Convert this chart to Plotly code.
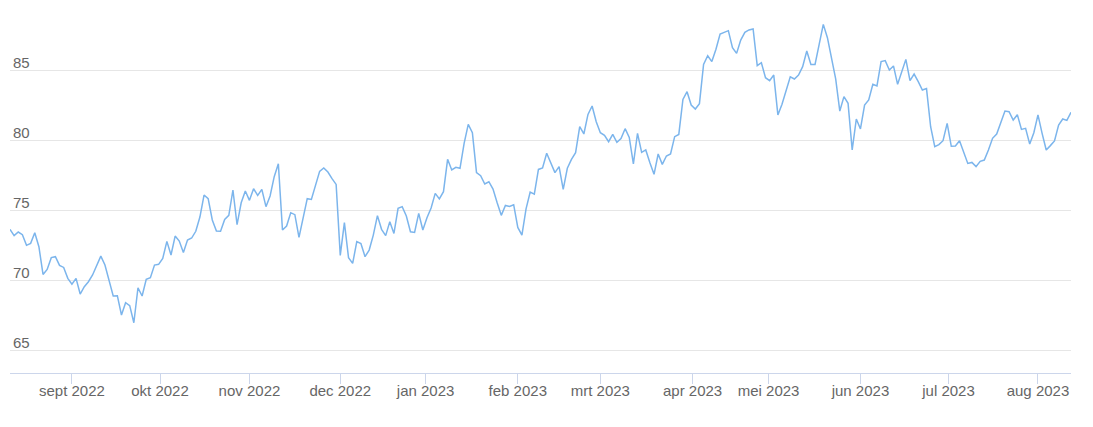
import numpy as np
import pandas as pd
import plotly.graph_objects as go

# Trading days (weekdays minus exchange holidays)
holidays = ["2022-12-26", "2023-04-07", "2023-04-10", "2023-05-01"]
dates = [d for d in pd.bdate_range("2022-08-11", "2023-08-11")
         if d.strftime("%Y-%m-%d") not in holidays]

values = [
    73.62, 73.17, 73.43, 73.24, 72.48, 72.62, 73.38, 72.38, 70.40, 70.76,
    71.60, 71.67, 71.05, 70.90, 70.12, 69.71, 70.12, 69.00, 69.52, 69.88,
    70.36, 71.07, 71.71, 71.07, 70.00, 68.86, 68.88, 67.50, 68.38, 68.17,
    66.95, 69.45, 68.86, 70.05, 70.17, 71.07, 71.12, 71.55, 72.76, 71.79,
    73.14, 72.78, 71.96, 72.86, 73.00, 73.48, 74.50, 76.07, 75.81, 74.29,
    73.50, 73.48, 74.33, 74.62, 76.43, 73.95, 75.52, 76.36, 75.69, 76.52,
    76.05, 76.48, 75.24, 76.00, 77.38, 78.31, 73.57, 73.86, 74.81, 74.67,
    73.05, 74.38, 75.81, 75.76, 76.83, 77.76, 78.00, 77.71, 77.24, 76.83,
    71.76, 74.10, 71.60, 71.19, 72.74, 72.60, 71.67, 72.14, 73.21, 74.60,
    73.62, 73.17, 74.17, 73.33, 75.12, 75.24, 74.57, 73.45, 73.40, 74.76,
    73.57, 74.45, 75.15, 76.19, 75.79, 76.31, 78.62, 77.86, 78.05, 77.98,
    79.76, 81.12, 80.52, 77.67, 77.45, 76.86, 77.02, 76.50, 75.52, 74.62,
    75.33, 75.26, 75.38, 73.76, 73.21, 75.08, 76.28, 76.14, 77.90, 78.00,
    79.05, 78.33, 77.67, 78.10, 76.48, 77.98, 78.62, 79.10, 80.95, 80.43,
    81.83, 82.43, 81.31, 80.52, 80.33, 79.88, 80.40, 79.83, 80.10, 80.81,
    80.19, 78.29, 80.48, 79.12, 79.29, 78.38, 77.55, 79.00, 78.26, 78.86,
    79.00, 80.24, 80.40, 82.90, 83.45, 82.50, 82.21, 82.60, 85.40, 86.02,
    85.60, 86.48, 87.57, 87.69, 87.81, 86.60, 86.19, 87.14, 87.69, 87.86,
    87.93, 85.31, 85.52, 84.45, 84.24, 84.64, 81.79, 82.55, 83.57, 84.52,
    84.36, 84.64, 85.24, 86.36, 85.40, 85.40, 86.83, 88.26, 87.31, 85.88,
    84.36, 82.07, 83.10, 82.62, 79.29, 81.50, 80.79, 82.50, 82.86, 83.98,
    83.86, 85.60, 85.67, 85.00, 85.29, 83.98, 84.88, 85.76, 84.24, 84.71,
    84.17, 83.57, 83.67, 80.95, 79.52, 79.67, 79.95, 81.19, 79.55, 79.57,
    79.95, 79.17, 78.33, 78.40, 78.10, 78.48, 78.57, 79.29, 80.12, 80.43,
    81.24, 82.07, 82.02, 81.43, 81.81, 80.76, 80.83, 79.71, 80.52, 81.79,
    80.48, 79.29, 79.60, 79.93, 81.07, 81.50, 81.40, 81.98,
]

month_starts = ["2022-09-01", "2022-10-01", "2022-11-01", "2022-12-01",
                "2023-01-01", "2023-02-01", "2023-03-01", "2023-04-01",
                "2023-05-01", "2023-06-01", "2023-07-01", "2023-08-01"]
month_labels = ["sept 2022", "okt 2022", "nov 2022", "dec 2022",
                "jan 2023", "feb 2023", "mrt 2023", "apr 2023",
                "mei 2023", "jun 2023", "jul 2023", "aug 2023"]

y_ticks = [65, 70, 75, 80, 85, 90]
y_labels = ["65", "70", "75", "80", "85", ""]

n = min(len(dates), len(values))
dates = dates[:n]
values = values[:n]
idx = np.arange(n)

# ordinal axis: month ticks interpolated between trading days
date_ts = np.array([d.timestamp() for d in dates])
tick_pos = np.interp([pd.Timestamp(m).timestamp() for m in month_starts], date_ts, idx)

fig = go.Figure()
fig.add_trace(go.Scatter(
    x=idx, y=values, mode="lines",
    line=dict(color="#7cb5ec", width=1.5),
    customdata=[d.strftime("%d-%m-%Y") for d in dates],
    hovertemplate="%{customdata}: %{y:.2f}<extra></extra>",
))

font = dict(family="Liberation Sans, Arial, sans-serif", size=15, color="#666666")

fig.update_layout(
    width=1093, height=427,
    margin=dict(l=10, r=22, t=0, b=54),
    paper_bgcolor="white", plot_bgcolor="white",
    showlegend=False,
    font=font,
    xaxis=dict(
        range=[0, n - 1], showgrid=False, zeroline=False,
        showline=True, linecolor="#ccd6eb", linewidth=1,
        ticks="outside", ticklen=10, tickcolor="#ccd6eb", tickwidth=1,
        tickvals=list(tick_pos), ticktext=month_labels,
        ticklabelstandoff=-6,
        tickfont=font,
    ),
    yaxis=dict(
        range=[63.36, 90], showgrid=True, gridcolor="#e6e6e6", gridwidth=1,
        zeroline=False, showline=False,
        tickvals=y_ticks, ticktext=y_labels,
        ticklabelposition="inside", ticklabelshift=-7, ticklabelstandoff=0,
        tickfont=font,
    ),
)

fig.write_html("out.html", config={"displayModeBar": False},
               post_script="document.body.style.margin='0';")
